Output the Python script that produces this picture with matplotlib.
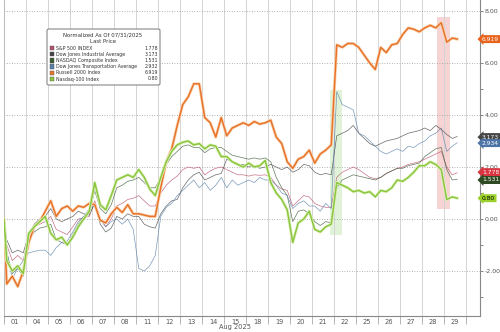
import matplotlib
matplotlib.use("Agg")
import matplotlib.pyplot as plt
import matplotlib.patheffects as pe
import matplotlib.transforms as mtransforms
from matplotlib.patches import FancyBboxPatch, Rectangle

# trading days (tick labels) and 4 intraday samples per day
DAYS = ["01", "04", "05", "06", "07", "08", "11", "12", "13", "14", "15",
        "18", "19", "20", "21", "22", "25", "26", "27", "28", "29"]
SAMPLE_POS = [0.125, 0.375, 0.625, 0.875]
LAST_DAY_POS = [0.125, 0.375, 0.6]

russell = [0,
    -2.5, -2.2, -2.6, -2.0,   -0.9, -0.3, -0.1, 0.3,   0.7, 0.1, 0.4, 0.5,
    0.3, 0.5, 0.45, 0.6,      0.55, -0.05, -0.15, 0.2, 0.45, 0.25, 0.55, 0.2,
    0.2, 0.15, 0.1, 0.1,      1.2, 2.2, 2.7, 3.6,      4.4, 4.7, 5.2, 5.2,
    3.9, 3.7, 3.15, 3.9,      3.2, 3.5, 3.6, 3.7,      3.6, 3.75, 3.65, 3.7,
    3.8, 3.15, 2.9, 2.2,      1.95, 2.3, 2.4, 2.65,    2.15, 2.5, 2.65, 2.85,
    6.7, 6.6, 6.75, 6.75,     6.6, 6.3, 6.0, 5.75,     6.6, 6.4, 6.7, 6.75,
    7.1, 7.35, 7.3, 7.2,      7.35, 7.45, 7.35, 7.55,  6.8, 6.96, 6.919]

nasdaq100 = [0,
    -1.6, -2.0, -1.8, -2.1,   -0.55, -0.3, -0.1, 0.1,  -0.55, -0.8, -0.7, -1.0,
    -0.7, -0.3, 0.0, 0.3,     1.4, 0.55, 0.35, 0.9,    1.5, 1.6, 1.7, 1.6,
    1.9, 1.6, 1.15, 0.9,      1.6, 2.2, 2.6, 2.85,     2.95, 3.0, 2.85, 2.9,
    2.7, 2.85, 2.8, 2.4,      2.4, 2.2, 2.1, 2.0,      2.15, 2.0, 2.05, 2.25,
    1.4, 1.0, 0.75, 0.35,     -0.9, -0.15, 0.0, 0.3,   -0.4, -0.5, -0.3, -0.2,
    1.4, 1.3, 1.2, 1.05,      1.1, 1.0, 1.05, 0.85,    1.1, 1.05, 1.2, 1.5,
    1.45, 1.6, 1.8, 2.05,     2.05, 2.2, 2.1, 1.9,     0.75, 0.85, 0.80]

dow = [0,
    -0.8, -1.3, -1.2, -1.3,   -0.6, -0.2, 0.0, 0.1,    0.4, 0.0, -0.1, 0.0,
    0.1, 0.3, 0.2, 0.15,      0.6, -0.2, -0.5, -0.35,  0.1, 0.0, 0.2, 0.1,
    0.1, -0.2, -0.3, -0.35,   0.2, 0.5, 0.7, 0.75,     1.2, 1.5, 1.7, 1.8,
    1.5, 1.6, 1.7, 1.75,      2.3, 2.2, 2.1, 2.1,      2.0, 2.05, 1.95, 2.0,
    2.1, 2.0, 1.9, 2.0,       1.8, 1.9, 2.1, 2.05,     1.8, 1.7, 1.75, 1.7,
    3.2, 3.3, 3.4, 3.6,       3.3, 3.1, 2.9, 2.8,      2.9, 3.0, 3.05, 3.1,
    3.2, 3.3, 3.35, 3.4,      3.5, 3.4, 3.6, 3.45,     3.25, 3.1, 3.173]

transports = [0,
    -1.2, -2.3, -1.9, -1.6,   -1.3, -1.25, -1.2, -1.2, -1.4, -1.1, -0.9, -0.85,
    -0.5, -0.1, 0.1, 0.4,     0.5, 0.0, -0.3, -0.1,    0.0, -0.2, 0.0, -0.4,
    -1.9, -2.0, -1.8, -1.4,   0.1, 0.45, 0.6, 0.9,     1.1, 1.3, 1.5, 1.2,
    1.4, 1.1, 1.3, 1.6,       1.2, 1.5, 1.3, 1.4,      1.5, 1.4, 1.6, 1.5,
    1.5, 1.3, 1.0, 0.9,       0.4, 0.6, 0.7, 0.5,      0.5, 0.3, 0.6, 0.4,
    4.9, 4.4, 4.3, 4.2,       3.3, 3.2, 3.0, 2.8,      2.6, 2.5, 2.6, 2.7,
    2.6, 2.8, 2.75, 2.9,      3.0, 3.2, 3.3, 3.5,      2.6, 2.8, 2.934]

spx = [0,
    -1.0, -1.6, -1.4, -1.6,   -0.6, -0.3, -0.2, -0.1,  0.1, -0.4, -0.5, -0.6,
    -0.3, 0.0, 0.05, 0.1,     0.7, 0.0, -0.3, 0.0,     0.5, 0.6, 0.75, 0.8,
    0.9, 0.7, 0.5, 0.5,       1.0, 1.3, 1.5, 1.65,     1.9, 2.0, 1.95, 2.0,
    1.7, 1.85, 1.95, 2.0,     1.9, 1.8, 1.7, 1.7,      1.65, 1.7, 1.68, 1.7,
    1.6, 1.3, 1.15, 1.1,      0.5, 0.7, 0.9, 0.85,     0.6, 0.5, 0.45, 0.45,
    1.6, 1.8, 1.9, 2.0,       1.9, 1.75, 1.6, 1.55,    1.6, 1.75, 1.85, 1.95,
    2.0, 2.1, 2.15, 2.2,      2.3, 2.4, 2.5, 2.6,      2.0, 1.7, 1.778]

nasdaq_comp = [0,
    -1.3, -2.1, -1.9, -2.2,   -0.8, -0.5, -0.35, -0.3, -0.2, -0.8, -0.9, -1.0,
    -0.6, -0.2, 0.1, 0.2,     1.1, 0.4, 0.2, 0.55,     1.2, 1.3, 1.45, 1.5,
    1.6, 1.4, 1.2, 1.2,       1.6, 2.1, 2.4, 2.6,      2.8, 2.85, 2.75, 2.75,
    2.55, 2.7, 2.75, 2.75,    2.6, 2.45, 2.4, 2.35,    2.3, 2.35, 2.3, 2.35,
    2.2, 1.6, 1.2, 0.9,       -0.1, 0.3, 0.35, 0.2,    -0.1, -0.25, -0.1, -0.15,
    1.2, 1.5, 1.6, 1.7,       1.65, 1.6, 1.55, 1.5,    1.6, 1.75, 1.85, 1.95,
    1.95, 2.05, 2.1, 2.15,    2.4, 2.55, 2.7, 2.75,    1.9, 1.5, 1.531]

names = ["S&P 500 INDEX", "Dow Jones Industrial Average", "NASDAQ Composite Index",
         "Dow Jones Transportation Average", "Russell 2000 Index", "Nasdaq-100 Index"]
last_labels = ["1.778", "3.173", "1.531", "2.932", "6.919", "0.80"]
box_labels = ["1.778", "3.173", "1.531", "2.934", "6.919", "0.80"]
colors = ["#b8506a", "#444444", "#3a5a34", "#5a80aa", "#e8742a", "#8cc63f"]
box_colors = ["#d9343f", "#454545", "#2e4a22", "#4d74a6", "#e8641c", "#9bd12a"]

t = [0.0]
for i in range(len(DAYS)):
    pos = LAST_DAY_POS if i == len(DAYS) - 1 else SAMPLE_POS
    t += [i + p for p in pos]

fig = plt.figure(figsize=(5, 3.32), dpi=100)
ax = fig.add_axes([4 / 500, 1 - 316 / 332, 476 / 500, 316 / 332])
ax.set_xlim(0, 476 / 22)
ax.set_ylim((219 - 316) / 26, 219 / 26)

# highlighted event windows
ax.add_patch(Rectangle((14.8, -0.6), 0.55, 5.55, color="#d3efc8", alpha=0.7, lw=0, zorder=1))
ax.add_patch(Rectangle((19.7, 0.4), 0.55, 7.35, color="#f3b8b8", alpha=0.6, lw=0, zorder=1))

thin = [(spx, 0), (dow, 1), (nasdaq_comp, 2), (transports, 3)]
for series, k in thin:
    ax.plot(t, series, color=colors[k], lw=0.5, alpha=0.8, zorder=3)

for series, k, glow in [(russell, 4, "#f9d6b8"), (nasdaq100, 5, "#e0f3c0")]:
    ax.plot(t, series, color=colors[k], lw=1.1, zorder=4,
            path_effects=[pe.Stroke(linewidth=2.2, foreground=glow), pe.Normal()])

# axes styling
for side in ["top", "left"]:
    ax.spines[side].set_visible(False)
ax.spines["right"].set_color("#888888")
ax.spines["bottom"].set_color("#888888")

ax.yaxis.tick_right()
ax.set_yticks([-2, 0, 2, 4, 6, 8])
ax.set_yticks([-3, -1, 1, 3, 5, 7], minor=True)
ax.set_yticklabels([f"{v:.2f}" for v in [-2, 0, 2, 4, 6, 8]])
ax.tick_params(axis="y", which="both", direction="out", length=2.5, width=0.5,
               colors="#555555", labelsize=4.5, pad=0.8)
ax.grid(axis="y", which="major", linestyle=(0, (1, 2)), color="#999999", lw=0.6)

ax.set_xticks(range(0, len(DAYS) + 1))
ax.set_xticklabels([])
ax.set_xticks([i + 0.5 for i in range(len(DAYS))], minor=True)
ax.set_xticklabels(DAYS, minor=True)
ax.tick_params(axis="x", which="major", direction="out", length=6, width=0.5, color="#999999")
ax.tick_params(axis="x", which="minor", length=0, labelsize=4.8, colors="#555555", pad=2)
ax.grid(axis="x", which="major", color="#d4d4d4", lw=0.7)
ax.axvline(0, color="#bbbbbb", lw=0.7)
ax.text(10.5, -0.035, "Aug 2025", transform=mtransforms.blended_transform_factory(ax.transData, ax.transAxes),
        ha="center", va="center", fontsize=4.8, color="#555555")

# last value tags on right axis
blend = mtransforms.blended_transform_factory(ax.transAxes, ax.transData)
tag_pos = [1.80, 3.15, 1.50, 2.92, 6.919, 0.80]
for k in range(6):
    txt_color = "black" if k == 5 else "white"
    ax.text(1.004, tag_pos[k], box_labels[k], transform=blend, fontsize=4.3, color=txt_color,
            va="center", ha="left", clip_on=False,
            bbox=dict(boxstyle="larrow,pad=0.25", fc=box_colors[k], ec="none"))

# custom legend box
def px(x, y):
    return x / 500, 1 - y / 332

lx0, ly0 = px(47, 85)
lx1, ly1 = px(160, 29)
fig.patches.append(FancyBboxPatch((lx0, ly0), lx1 - lx0, ly1 - ly0, boxstyle="round,pad=0,rounding_size=0.004",
                                  transform=fig.transFigure, fc="white", ec="#777777", lw=0.7, zorder=5))
fig.text(*px(103, 35), "Normalized As Of 07/31/2025", ha="center", va="center", fontsize=3.9, color="#333333", zorder=6)
fig.text(*px(103, 41.5), "Last Price", ha="center", va="center", fontsize=3.9, color="#333333", zorder=6)
for k in range(6):
    yy = 48 + k * 6.2
    fig.patches.append(Rectangle(px(49.5, yy + 2.2), 4.5 / 500, 4.5 / 332, transform=fig.transFigure,
                                 fc=colors[k], ec="#555555", lw=0.3, zorder=6))
    fig.text(*px(56, yy), names[k], ha="left", va="center", fontsize=3.45, color="#333333", zorder=6)
    fig.text(*px(158, yy), last_labels[k], ha="right", va="center", fontsize=3.45, color="#333333", zorder=6)

fig.savefig("out.png", dpi=100)
